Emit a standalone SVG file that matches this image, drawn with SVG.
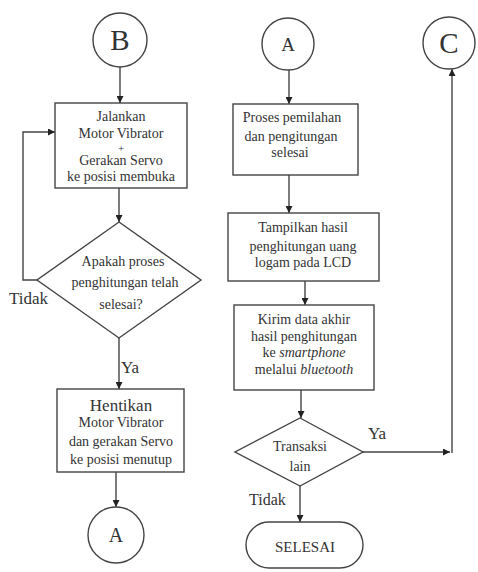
<svg xmlns="http://www.w3.org/2000/svg" width="478" height="572" viewBox="0 0 478 572" font-family="Liberation Serif">
<defs>
<marker id="a" viewBox="0 0 10 10" refX="10" refY="5" markerWidth="7" markerHeight="7" markerUnits="userSpaceOnUse" orient="auto">
<path d="M0,0 L10,5 L0,10 Z" fill="#222"/>
</marker>
</defs>
<rect width="478" height="572" fill="#fff"/>
<g id="connectors" fill="none" stroke="#444" stroke-width="1.4">
<line x1="120" y1="67" x2="120" y2="103" marker-end="url(#a)"/>
<line x1="119" y1="188" x2="119" y2="222" marker-end="url(#a)"/>
<polyline points="37,280 23,280 23,132 55,132" marker-end="url(#a)"/>
<line x1="119" y1="338" x2="119" y2="389" marker-end="url(#a)"/>
<line x1="116" y1="472" x2="116" y2="507" marker-end="url(#a)"/>
<line x1="289" y1="70" x2="289" y2="104" marker-end="url(#a)"/>
<line x1="289" y1="175" x2="289" y2="213" marker-end="url(#a)"/>
<line x1="305" y1="281" x2="305" y2="305" marker-end="url(#a)"/>
<line x1="301" y1="390" x2="301" y2="418" marker-end="url(#a)"/>
<line x1="363" y1="452" x2="450" y2="452" marker-end="url(#a)"/>
<line x1="452" y1="453" x2="452" y2="69" marker-end="url(#a)"/>
<line x1="300" y1="486" x2="300" y2="522" marker-end="url(#a)"/>
<g stroke="none" fill="#333" font-family="Liberation Serif" font-size="17">
<text x="121" y="373">Ya</text>
<text x="9" y="304">Tidak</text>
<text x="368" y="439">Ya</text>
<text x="249" y="505" font-size="16">Tidak</text>
</g>
</g>
<g fill="#fff" stroke="#444" stroke-width="1.4">
<g id="B">
<circle cx="120" cy="40" r="27"/>
<text x="120" y="50" font-family="Liberation Serif" font-size="29" fill="#333" stroke="none" text-anchor="middle">B</text>
</g>
<g id="jalankan">
<rect x="55" y="103" width="132" height="85"/>
<g font-family="Liberation Serif" font-size="14" fill="#333" stroke="none" text-anchor="middle">
<text x="121" y="121">Jalankan</text>
<text x="121" y="138">Motor Vibrator</text>
<text x="121" y="152" font-size="11">+</text>
<text x="121" y="165">Gerakan Servo</text>
<text x="121" y="181">ke posisi membuka</text>
</g>
</g>
<g id="apakah">
<polygon points="119,222 201,280 119,338 37,280"/>
<g font-family="Liberation Serif" font-size="14" fill="#333" stroke="none" text-anchor="middle">
<text x="123" y="266">Apakah proses</text>
<text x="125" y="287">penghitungan telah</text>
<text x="121" y="309">selesai?</text>
</g>
</g>
<g id="hentikan">
<rect x="57" y="389" width="127" height="83"/>
<g font-family="Liberation Serif" font-size="14" fill="#333" stroke="none" text-anchor="middle">
<text x="121" y="411" font-size="17">Hentikan</text>
<text x="121" y="427">Motor Vibrator</text>
<text x="121" y="446">dan gerakan Servo</text>
<text x="121" y="464">ke posisi menutup</text>
</g>
</g>
<g id="A1">
<circle cx="116" cy="535" r="28"/>
<text x="116" y="542" font-family="Liberation Serif" font-size="20" fill="#333" stroke="none" text-anchor="middle">A</text>
</g>
<g id="A2">
<circle cx="288" cy="44" r="26"/>
<text x="288" y="51" font-family="Liberation Serif" font-size="19" fill="#333" stroke="none" text-anchor="middle">A</text>
</g>
<g id="C">
<circle cx="449" cy="43" r="26"/>
<text x="449" y="53" font-family="Liberation Serif" font-size="29" fill="#333" stroke="none" text-anchor="middle">C</text>
</g>
<g id="proses">
<rect x="233" y="104" width="125" height="71"/>
<g font-family="Liberation Serif" font-size="14" fill="#333" stroke="none" text-anchor="middle">
<text x="292" y="122">Proses pemilahan</text>
<text x="291" y="141">dan pengitungan</text>
<text x="290" y="157">selesai</text>
</g>
</g>
<g id="tampilkan">
<rect x="228" y="213" width="151" height="68"/>
<g font-family="Liberation Serif" font-size="14" fill="#333" stroke="none" text-anchor="middle">
<text x="303" y="232">Tampilkan hasil</text>
<text x="303" y="251">penghitungan uang</text>
<text x="303" y="267">logam pada LCD</text>
</g>
</g>
<g id="kirim">
<rect x="234" y="305" width="140" height="85"/>
<g font-family="Liberation Serif" font-size="14" fill="#333" stroke="none" text-anchor="middle">
<text x="304" y="324">Kirim data akhir</text>
<text x="304" y="341">hasil penghitungan</text>
<text x="304" y="357">ke <tspan font-style="italic">smartphone</tspan></text>
<text x="304" y="374">melalui <tspan font-style="italic">bluetooth</tspan></text>
</g>
</g>
<g id="transaksi">
<polygon points="300,418 363,452 300,486 235,452"/>
<g font-family="Liberation Serif" font-size="14" fill="#333" stroke="none" text-anchor="middle">
<text x="300" y="451">Transaksi</text>
<text x="300" y="471">lain</text>
</g>
</g>
<g id="selesai">
<rect x="246" y="522" width="117" height="46" rx="23" ry="23"/>
<text x="305" y="552" font-family="Liberation Serif" font-size="15" fill="#333" stroke="none" text-anchor="middle">SELESAI</text>
</g>
</g>
</svg>
